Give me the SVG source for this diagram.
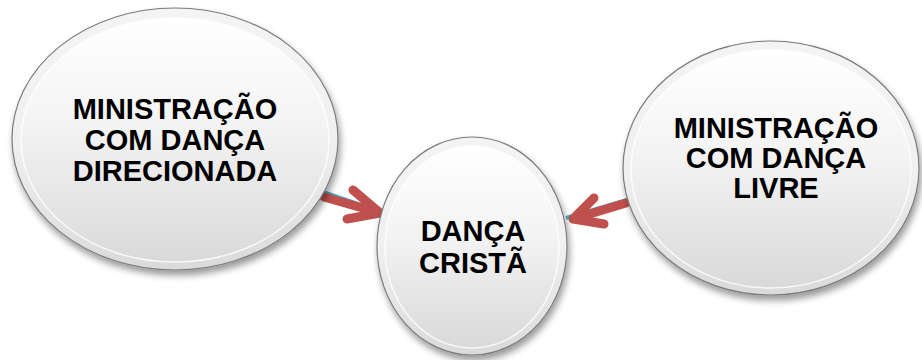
<svg xmlns="http://www.w3.org/2000/svg" width="922" height="360" viewBox="0 0 922 360">
<defs>
<linearGradient id="rim" x1="0" y1="0" x2="0" y2="1">
<stop offset="0" stop-color="#f4f4f4"/>
<stop offset="0.5" stop-color="#f0f0f0"/>
<stop offset="1" stop-color="#dadada"/>
</linearGradient>
<linearGradient id="face" x1="0" y1="0" x2="0" y2="1">
<stop offset="0" stop-color="#ffffff"/>
<stop offset="0.45" stop-color="#f3f3f3"/>
<stop offset="1" stop-color="#d9d9d9"/>
</linearGradient>
<filter id="sh" x="-20%" y="-20%" width="140%" height="150%">
<feGaussianBlur in="SourceAlpha" stdDeviation="3.5"/>
<feOffset dx="2" dy="5" result="b"/>
<feComponentTransfer><feFuncA type="linear" slope="0.4"/></feComponentTransfer>
<feMerge><feMergeNode/><feMergeNode in="SourceGraphic"/></feMerge>
</filter>
<style>
.rim{fill:url(#rim);stroke:#7a7a7a;stroke-width:1.2}
.face{fill:url(#face);stroke:#ffffff;stroke-width:1.5;stroke-opacity:0.8}
.t{font-family:"Liberation Sans",Arial,sans-serif;font-weight:bold;font-size:29px;fill:#000;text-anchor:middle}
.teal{stroke:#4BACC6;stroke-width:4;fill:none}
.red{stroke:#C0504D;stroke-width:9;stroke-linecap:round;stroke-linejoin:round;fill:none}
</style>
</defs>
<g id="connectors">
<line class="teal" x1="323" y1="192" x2="384" y2="213"/>
<path class="red" d="M324,197 L380,213 M353,190 L380,213 L347,219"/>
<line class="teal" x1="627" y1="200" x2="566" y2="218"/>
<path class="red" d="M626,203 L573,219 M594,198 L573,219 L604,224"/>
</g>
<g id="node-left">
<ellipse class="rim" cx="175" cy="139" rx="163" ry="131" filter="url(#sh)"/>
<ellipse class="face" cx="175" cy="140" rx="154" ry="122"/>
<text class="t" x="175" y="119">MINISTRAÇÃO</text>
<text class="t" x="175" y="150">COM DANÇA</text>
<text class="t" x="175" y="181">DIRECIONADA</text>
</g>
<g id="node-center">
<ellipse class="rim" cx="472" cy="246" rx="95" ry="109" filter="url(#sh)"/>
<ellipse class="face" cx="472" cy="247" rx="87" ry="101"/>
<text class="t" x="473" y="241">DANÇA</text>
<text class="t" x="473" y="273">CRISTÃ</text>
</g>
<g id="node-right">
<ellipse class="rim" cx="771" cy="168" rx="148" ry="127" filter="url(#sh)"/>
<ellipse class="face" cx="771" cy="169" rx="140" ry="119"/>
<text class="t" x="776" y="138">MINISTRAÇÃO</text>
<text class="t" x="776" y="168">COM DANÇA</text>
<text class="t" x="776" y="198">LIVRE</text>
</g>
</svg>
